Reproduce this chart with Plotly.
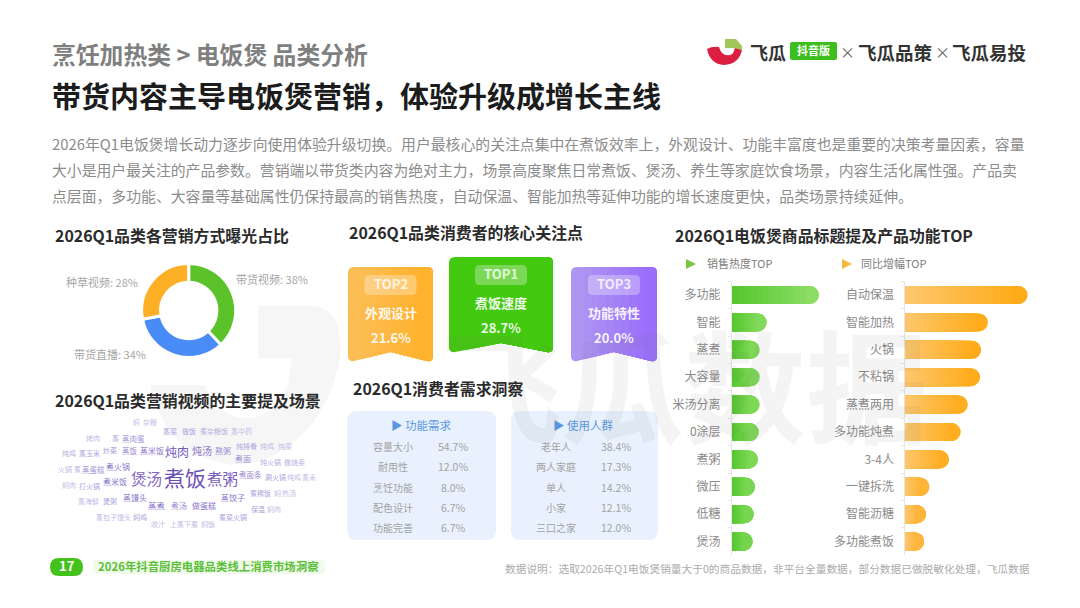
import re
import plotly.graph_objects as go

W, H = 1080, 608
FONT = "Noto Sans CJK SC"

# Header copy
crumb = "烹饪加热类 > 电饭煲 品类分析"
headline = "带货内容主导电饭煲营销，体验升级成增长主线"
intro_lines = [
    "2026年Q1电饭煲增长动力逐步向使用体验升级切换。用户最核心的关注点集中在煮饭效率上，外观设计、功能丰富度也是重要的决策考量因素，容量",
    "大小是用户最关注的产品参数。营销端以带货类内容为绝对主力，场景高度聚焦日常煮饭、煲汤、养生等家庭饮食场景，内容生活化属性强。产品卖",
    "点层面，多功能、大容量等基础属性仍保持最高的销售热度，自动保温、智能加热等延伸功能的增长速度更快，品类场景持续延伸。",
]

# Marketing exposure share
channel_names = ["带货视频", "带货直播", "种草视频"]
channel_share = [38, 34, 28]
channel_colors = ["#5cc22a", "#4a8cf7", "#fdb025"]

# Consumer focus ranking
focus_names = ["外观设计", "煮饭速度", "功能特性"]
focus_ranks = ["TOP2", "TOP1", "TOP3"]
focus_share = ["21.6%", "28.7%", "20.0%"]

# Demand tables
need_names = ["容量大小", "耐用性", "烹饪功能", "配色设计", "功能完善"]
need_share = ["54.7%", "12.0%", "8.0%", "6.7%", "6.7%"]
crowd_names = ["老年人", "两人家庭", "单人", "小家", "三口之家"]
crowd_share = ["38.4%", "17.3%", "14.2%", "12.1%", "12.0%"]

# Title keyword rankings
heat_names = ["多功能", "智能", "蒸煮", "大容量", "米汤分离", "0涂层", "煮粥", "微压", "低糖", "煲汤"]
heat_index = [100, 40, 32, 32, 32, 31, 30, 26.5, 25, 24]
growth_names = ["自动保温", "智能加热", "火锅", "不粘锅", "蒸煮两用", "多功能炖煮", "3-4人", "一键拆洗", "智能沥糖", "多功能煮饭"]
growth_index = [100, 67.5, 62, 61, 51, 45.3, 35.5, 19.6, 17, 15.3]

# Scene word cloud: word, x, y, size, colour
cloud_words = [
    ("煮饭", 185, 479, 21, "#6a4fb6"), ("煲汤", 146, 479, 15.5, "#8468c6"), ("煮粥", 222, 479, 15.5, "#7a5dc0"),
    ("炖肉", 177, 452, 12, "#7158bd"), ("炖汤", 202, 451, 10, "#8a75cc"), ("蒸米饭", 152, 451, 8, "#8a75cc"),
    ("蒸饭", 130, 451, 7.5, "#9c8ad4"), ("炒菜", 110, 451, 7, "#a596d8"), ("熬粥", 223, 451, 8, "#9c8ad4"),
    ("炖排骨", 246, 447, 7, "#b0a2de"), ("炖鸡", 267, 447, 7, "#c5bae6"), ("炖菜", 285, 447, 7, "#c5bae6"),
    ("蒸菜", 170, 432, 7, "#b0a2de"), ("做饭", 189, 432, 7, "#b0a2de"), ("煮杂粮饭", 214, 432, 7, "#b9addf"),
    ("蒸中药", 241, 432, 7, "#c5bae6"), ("焖", 136, 423, 6.5, "#c5bae6"), ("杂粮", 150, 423, 7, "#c5bae6"),
    ("烤肉", 93, 439, 7, "#c5bae6"), ("蒸", 115, 439, 7, "#b9addf"), ("蒸肉蛋", 133, 439, 7.5, "#a596d8"),
    ("炖鸡", 69, 454, 7, "#b9addf"), ("蒸玉米", 89, 454, 7, "#b0a2de"), ("火锅", 65, 470, 7, "#c5bae6"),
    ("煮", 77, 470, 7, "#c5bae6"), ("蒸蛋糕", 93, 470, 7.5, "#a596d8"), ("煮火锅", 118, 467, 8, "#8a75cc"),
    ("煮米饭", 115, 482, 8, "#8a75cc"), ("煮面", 243, 459, 8, "#9c8ad4"), ("炖火锅", 270, 463, 7, "#b9addf"),
    ("做烧卖", 294, 463, 7, "#b9addf"), ("煮面条", 250, 475, 7.5, "#9c8ad4"), ("涮火锅", 275, 478, 7, "#b0a2de"),
    ("炖鸡", 294, 478, 7, "#c5bae6"), ("蒸米", 309, 478, 7, "#c5bae6"), ("焖肉", 69, 486, 7, "#c5bae6"),
    ("打火锅", 89, 487, 7, "#b0a2de"), ("蒸饺子", 233, 498, 8, "#8a75cc"), ("煮稀饭", 260, 494, 7, "#b0a2de"),
    ("焖", 277, 494, 7, "#c5bae6"), ("热汤", 289, 494, 7, "#c5bae6"), ("蒸馒头", 135, 498, 8, "#8a75cc"),
    ("蒸海鲜", 88, 502, 7, "#c5bae6"), ("煲粥", 110, 502, 7, "#b0a2de"), ("蒸煮", 157, 506, 8.5, "#8a75cc"),
    ("煮汤", 179, 506, 8, "#9c8ad4"), ("做蛋糕", 204, 506, 8, "#8a75cc"), ("保温", 258, 510, 7, "#b0a2de"),
    ("焖肉", 274, 510, 7, "#c5bae6"), ("蒸包子馒头", 113, 518, 7, "#c5bae6"), ("焖鸡", 140, 518, 7, "#b0a2de"),
    ("煮菜火锅", 233, 518, 7, "#b0a2de"), ("收汁", 158, 525, 7, "#c5bae6"), ("上蒸下煮", 184, 525, 7, "#c5bae6"),
    ("焖饭", 208, 525, 7, "#c5bae6"),
]


def px(x):
    return x / W


def py(y):
    return 1 - y / H


def path(spec):
    """Convert a pixel-space M/L/Q/C/Z path into paper coordinates."""
    out, axis = [], 0
    for tok in spec.split():
        if re.fullmatch(r"[-\d.]+", tok):
            out.append(f"{px(float(tok)):.5f}" if axis == 0 else f"{py(float(tok)):.5f}")
            axis = 1 - axis
        else:
            out.append(tok)
    return " ".join(out)


def rrect(x0, y0, x1, y1, r):
    return (f"M {x0+r} {y0} L {x1-r} {y0} Q {x1} {y0} {x1} {y0+r} L {x1} {y1-r} Q {x1} {y1} {x1-r} {y1} "
            f"L {x0+r} {y1} Q {x0} {y1} {x0} {y1-r} L {x0} {y0+r} Q {x0} {y0} {x0+r} {y0} Z")


def ribbon(x0, y0, x1, y1, notch, r=6):
    mid = (x0 + x1) / 2
    return (f"M {x0+r} {y0} L {x1-r} {y0} Q {x1} {y0} {x1} {y0+r} L {x1} {y1-r} Q {x1} {y1} {x1-r} {y1-1} "
            f"L {mid} {notch} L {x0+r} {y1-1} Q {x0} {y1} {x0} {y1-r} L {x0} {y0+r} Q {x0} {y0} {x0+r} {y0} Z")


def ribbon_tail(xk, x0, y0, x1, y1, notch, r=6):
    """The part of a ribbon to the right of xk."""
    mid = (x0 + x1) / 2
    left, right = x0 + r, x1 - r
    if xk < mid:
        yk = (y1 - 1) + (notch - y1 + 1) * (xk - left) / (mid - left)
        foot = f"L {mid} {notch} L {xk} {yk}"
    else:
        yk = notch + (y1 - 1 - notch) * (xk - mid) / (right - mid)
        foot = f"L {xk} {yk}"
    return (f"M {xk} {y0} L {right} {y0} Q {x1} {y0} {x1} {y0+r} L {x1} {y1-r} Q {x1} {y1} {right} {y1-1} "
            f"{foot} Z")


def lerp(c0, c1, t):
    a = [int(c0[i:i + 2], 16) for i in (1, 3, 5)]
    b = [int(c1[i:i + 2], 16) for i in (1, 3, 5)]
    return "rgb({},{},{})".format(*[round(p + (q - p) * t) for p, q in zip(a, b)])


shapes = []


def add_shape(spec, fill, layer="below"):
    shapes.append(dict(type="path", xref="paper", yref="paper", path=path(spec),
                       fillcolor=fill, line=dict(width=0), layer=layer))


annotations = []


def label(text, x, y, size, color, anchor="left", bold=False):
    # The CJK face sits slightly low in its line box, so lift it a little
    y = y - size * 0.08
    annotations.append(dict(
        text=f"<b>{text}</b>" if bold else text, x=px(x), y=py(y), xref="paper", yref="paper",
        xanchor=anchor, yanchor="middle", showarrow=False, borderpad=0,
        font=dict(family=FONT, size=size, color=color),
    ))


# Brand watermark across the lower half of the page
label("飞瓜数据", 684, 390, 122, "rgba(110,110,110,0.075)", "center", True)
add_shape("M 258 306 L 310 306 Q 330 306 338 326 L 341 350 Q 332 420 280 452 Q 235 478 190 450 "
          "Q 160 430 150 385 L 205 385 Q 215 412 240 418 Q 275 420 288 385 L 292 358 L 258 358 Z",
          "rgba(110,110,110,0.06)", "above")

# Logo lockup
add_shape("M 707 49 Q 712 46 719 47 Q 722 57 730 55 Q 734 54 735 47 L 742 50 Q 739 64 724 65 Q 710 64 707 49 Z", "#dc1f41")
add_shape("M 725 39 L 736 39 L 742 46 L 742 50 L 734 48 L 725 48 Z", "#a3c659")
add_shape(rrect(790, 42, 837, 60, 2), "#3cbf1e")
label("飞瓜", 749, 53, 18, "#333333", bold=True)
label("抖音版", 813.5, 51, 11, "#ffffff", "center", True)
label("×", 847, 53, 15, "#666666", "center")
label("飞瓜品策", 857, 53, 18.5, "#333333", bold=True)
label("×", 942, 53, 15, "#666666", "center")
label("飞瓜易投", 951, 53, 18.5, "#333333", bold=True)

# Page header
label(crumb, 51, 55, 23.8, "#7f7f7f", bold=True)
label(headline, 51, 97, 29, "#1c1c1c", bold=True)
for line, y in zip(intro_lines, [145, 171, 197]):
    label(line, 51, y, 14.85, "#8c8c8c")

# Section titles
SECTION = 15.9
label("2026Q1品类各营销方式曝光占比", 54, 237, SECTION, "#2b2b2b", bold=True)
label("2026Q1品类消费者的核心关注点", 348, 234, SECTION, "#2b2b2b", bold=True)
label("2026Q1消费者需求洞察", 352, 390, SECTION, "#2b2b2b", bold=True)
label("2026Q1品类营销视频的主要提及场景", 54, 402, SECTION, "#2b2b2b", bold=True)
label("2026Q1电饭煲商品标题提及产品功能TOP", 674, 237, SECTION, "#2b2b2b", bold=True)

# Donut callouts
for name, share, x, y in zip(channel_names, channel_share, [272, 110, 102], [280, 355, 283]):
    label(f"{name}: {share}%", x, y, 11, "#a6a6a6", "center")

# Ranking ribbons, with a soft left-to-right colour shift
ribbon_boxes = [(348, 267, 433, 362, 352), (449, 257, 553, 353, 343), (571, 267, 657, 362, 352)]
ribbon_fills = [("#fdbd55", "#ffb22c"), ("#43c90f", "#43c90f"), ("#ae95f2", "#9a6ffb")]
for i, (box, (start, end)) in enumerate(zip(ribbon_boxes, ribbon_fills)):
    x0, y0, x1, y1, notch = box
    cx = (x0 + x1) / 2
    add_shape(ribbon(x0, y0, x1, y1, notch), start)
    for k in range(1, 10):
        xk = x0 + 6 + (x1 - x0 - 12) * k / 10
        add_shape(ribbon_tail(xk, x0, y0, x1, y1, notch), lerp(start, end, k / 9))
    add_shape(rrect(cx - 26, y0 + 8, cx + 26, y0 + 28, 5), "rgba(255,255,255,0.3)")
    label(focus_ranks[i], cx, y0 + 18, 13, "rgba(255,255,255,0.8)", "center", True)
    label(focus_names[i], cx, y0 + 47, 13, "rgba(255,255,255,0.92)", "center", True)
    label(focus_share[i], cx, y0 + 72, 13, "rgba(255,255,255,0.92)", "center", True)

# Demand tables
for x0, x1 in [(347, 496), (511, 658)]:
    add_shape(rrect(x0, 411, x1, 540, 10), "#e8f1fd")
label("▶ 功能需求", 421, 426, 11.5, "#5b97de", "center")
label("▶ 使用人群", 583, 426, 11.5, "#5b97de", "center")
for i, y in enumerate([447, 467.5, 488, 508, 528]):
    label(need_names[i], 393, y, 10, "#a3a3a3", "center")
    label(need_share[i], 453, y, 10.5, "#a3a3a3", "center")
    label(crowd_names[i], 556, y, 10, "#a3a3a3", "center")
    label(crowd_share[i], 616, y, 10.5, "#a3a3a3", "center")

# Word cloud
for word, x, y, size, color in cloud_words:
    label(word, x, y, size, color, "center")

# Ranking sub-headers
add_shape("M 686 259 L 696 264 L 686 269 Z", "#7cc63f")
label("销售热度TOP", 706, 264, 11, "#7d7d7d")
add_shape("M 842 259 L 852 264 L 842 269 Z", "#f5b83d")
label("同比增幅TOP", 860, 264, 11, "#7d7d7d")

# Footer
add_shape(rrect(50, 558, 83, 576, 9), "#44c21c")
label("17", 66.5, 567, 13, "#ffffff", "center", True)
add_shape(rrect(93, 560, 325, 574, 4), "#f1fbeb")
label("2026年抖音厨房电器品类线上消费市场洞察", 97, 567, 11.4, "#5cbf3a", bold=True)
label("数据说明：选取2026年Q1电饭煲销量大于0的商品数据，非平台全量数据，部分数据已做脱敏化处理，飞瓜数据", 1031, 569, 10.7, "#ababab", "right")

fig = go.Figure()

# Donut of exposure share
fig.add_trace(go.Pie(
    labels=channel_names, values=channel_share, hole=0.6, sort=False, direction="clockwise", rotation=0,
    textinfo="none", hoverinfo="label+percent", showlegend=False,
    marker=dict(colors=channel_colors, line=dict(color="#ffffff", width=3)),
    domain=dict(x=[px(188.7 - 47), px(188.7 + 47)], y=[py(310.5 + 47), py(310.5 - 47)]),
))

# Each ranking bar is a stack of shrinking copies, which gives it a left-to-right gradient
STEPS = 14


def gradient_bars(names, values, left, right, xa, ya):
    for k in range(STEPS):
        f = 1 - k / STEPS
        fig.add_trace(go.Bar(
            y=names, x=[v * f for v in values], orientation="h", xaxis=xa, yaxis=ya,
            marker=dict(color=lerp(left, right, f), cornerradius=9, line=dict(width=0)),
            showlegend=False, hoverinfo="skip",
        ))


gradient_bars(heat_names, heat_index, "#52c52a", "#8fdf68", "x", "y")
gradient_bars(growth_names, growth_index, "#fdc871", "#ffaa14", "x2", "y2")

bar_domain = [py(555.3), py(281.3)]
y_axis = dict(
    type="category", range=[9.5, -0.5], domain=bar_domain, tickson="boundaries", ticks="outside", ticklen=3,
    tickcolor="#e6e6e6", showline=True, linecolor="#e6e6e6", linewidth=1, showgrid=False, ticklabelstandoff=8,
    tickfont=dict(family=FONT, size=12, color="#8a8a8a"), fixedrange=True,
)
x_axis = dict(range=[0, 100], visible=False, fixedrange=True)

fig.update_layout(
    width=W, height=H, margin=dict(l=0, r=0, t=0, b=0, pad=0), autosize=False,
    paper_bgcolor="#ffffff", plot_bgcolor="rgba(0,0,0,0)", barmode="overlay", bargap=0.343,
    font=dict(family=FONT), shapes=shapes, annotations=annotations,
    xaxis=dict(x_axis, domain=[px(732), px(819)]),
    yaxis=dict(y_axis, anchor="x"),
    xaxis2=dict(x_axis, domain=[px(905.3), px(1027.7)], anchor="y2"),
    yaxis2=dict(y_axis, anchor="x2"),
)

fig.write_html("out.html", config=dict(displayModeBar=False))
